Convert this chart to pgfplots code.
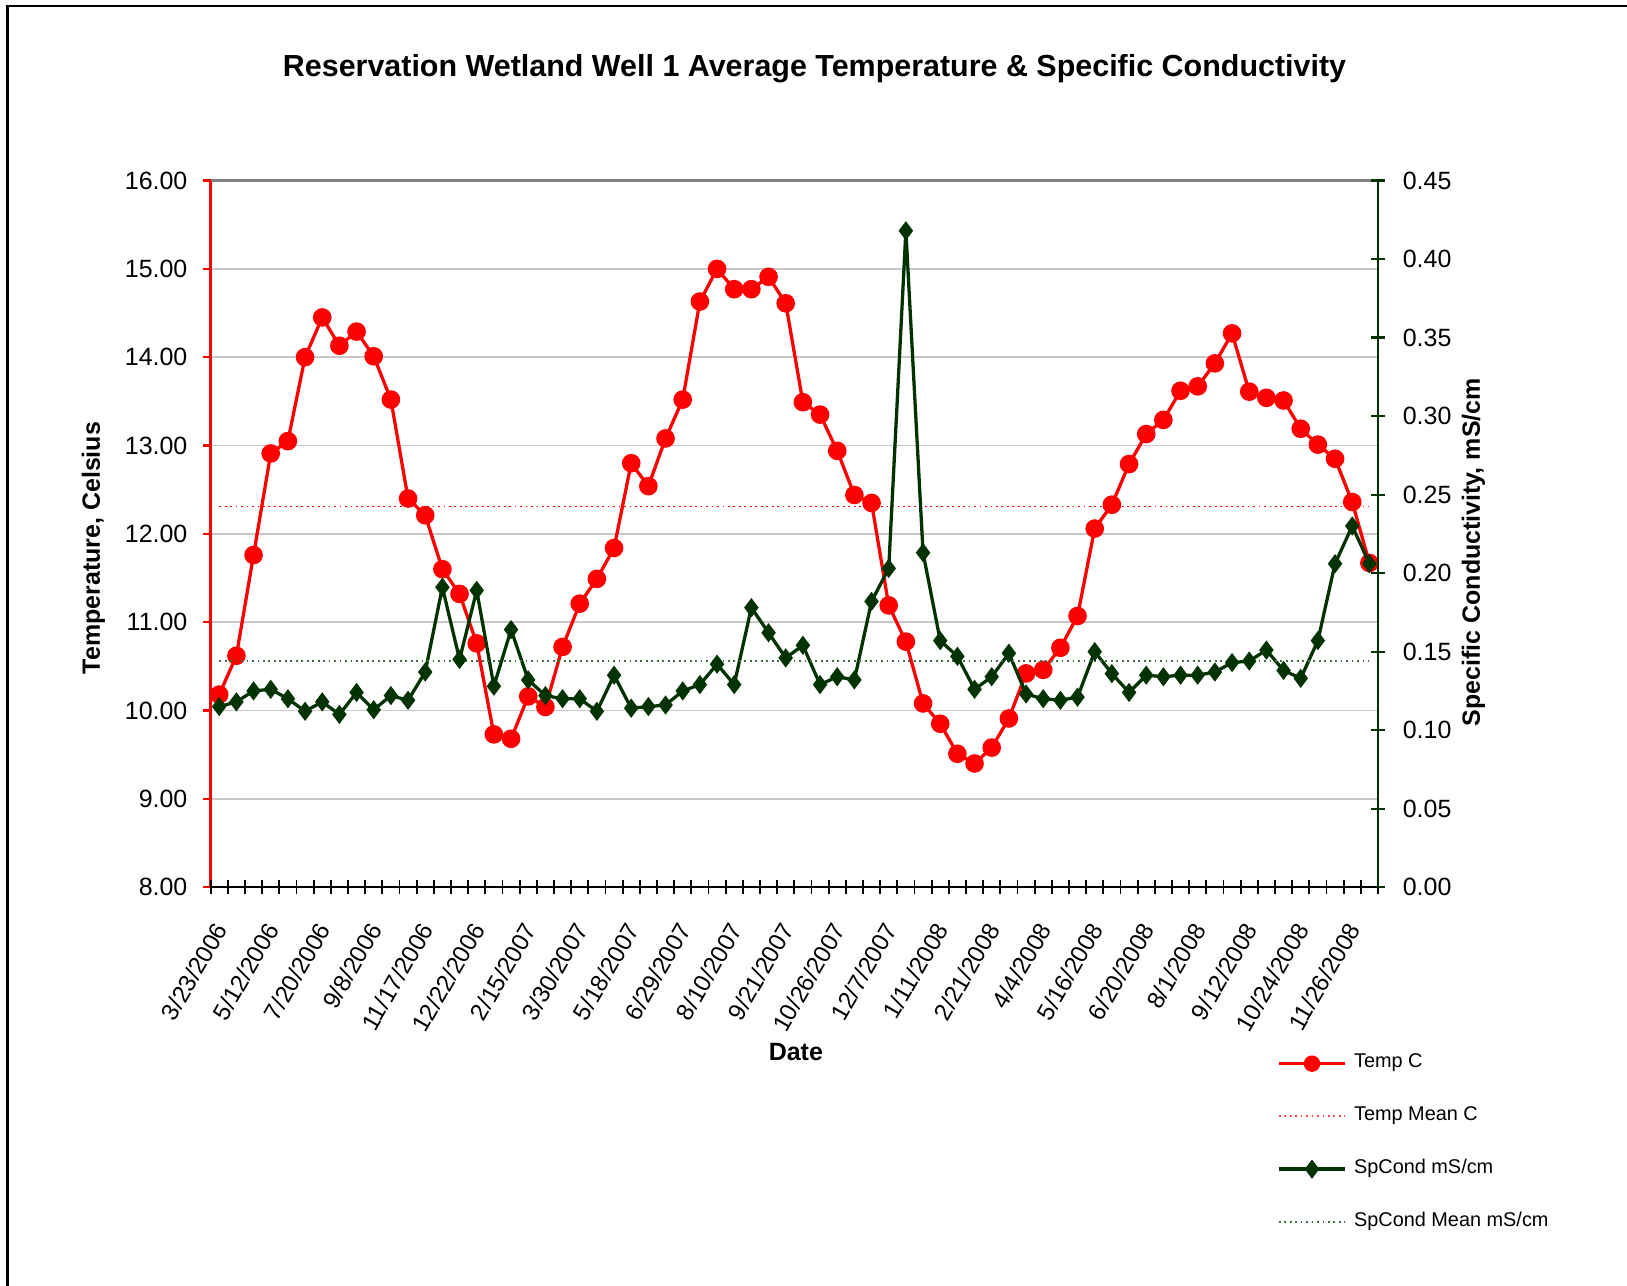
\documentclass[border=0pt]{standalone}
\usepackage{fontspec}
\setmainfont{Liberation Sans}
\usepackage{pgfplots}
\usepackage{pgfplotstable}
\pgfplotsset{compat=1.18}
\definecolor{spgreen}{RGB}{0,51,0}
\definecolor{meangreen}{RGB}{60,110,60}
\definecolor{gridgray}{RGB}{200,200,200}

\pgfplotstableread{
idx temp sp
0 10.18 0.115
1 10.62 0.118
2 11.76 0.125
3 12.91 0.126
4 13.05 0.120
5 14.00 0.112
6 14.45 0.118
7 14.13 0.110
8 14.29 0.124
9 14.01 0.113
10 13.52 0.122
11 12.40 0.119
12 12.21 0.137
13 11.60 0.191
14 11.32 0.145
15 10.76 0.189
16 9.73 0.128
17 9.68 0.164
18 10.16 0.132
19 10.04 0.122
20 10.72 0.120
21 11.21 0.120
22 11.49 0.112
23 11.84 0.135
24 12.80 0.114
25 12.54 0.115
26 13.08 0.116
27 13.52 0.125
28 14.63 0.129
29 15.00 0.142
30 14.77 0.129
31 14.77 0.178
32 14.91 0.162
33 14.61 0.146
34 13.49 0.154
35 13.35 0.129
36 12.94 0.134
37 12.44 0.132
38 12.35 0.182
39 11.19 0.203
40 10.78 0.418
41 10.08 0.213
42 9.85 0.157
43 9.51 0.147
44 9.40 0.126
45 9.58 0.134
46 9.91 0.149
47 10.42 0.123
48 10.46 0.120
49 10.71 0.119
50 11.07 0.121
51 12.06 0.150
52 12.33 0.136
53 12.79 0.124
54 13.13 0.135
55 13.29 0.134
56 13.62 0.135
57 13.67 0.135
58 13.93 0.137
59 14.27 0.143
60 13.61 0.144
61 13.54 0.151
62 13.51 0.138
63 13.19 0.133
64 13.01 0.157
65 12.85 0.206
66 12.36 0.230
67 11.67 0.206
}\datatable

\begin{document}
\begin{tikzpicture}[x=1cm,y=1cm]
\useasboundingbox (0,0) rectangle (15.68,12.39);
\draw[line width=0.7pt, black] (0.07,0) -- (0.07,12.33) -- (15.68,12.33);
\node[font=\bfseries\fontsize{8.35}{10}\selectfont] at (7.85,11.73) {Reservation Wetland Well 1 Average Temperature \& Specific Conductivity};
\node[font=\bfseries\fontsize{6.85}{8}\selectfont] at (7.67,2.25) {Date};

\begin{axis}[
  at={(2.03cm,3.84cm)}, anchor=south west,
  scale only axis, width=11.25cm, height=6.81cm,
  xmin=-0.5, xmax=67.5, ymin=8, ymax=16,
  axis x line*=top, axis y line*=left,
  x axis line style={draw=gray, line width=0.7pt, -},
  y axis line style={draw=red, line width=0.8pt, -},
  xtick=\empty,
  ytick={8,9,...,16},
  tick align=outside, major tick length=0.07cm,
  ytick style={red, line width=0.6pt},
  ymajorgrids, grid style={gridgray, line width=0.5pt},
  yticklabel style={font=\fontsize{6.85}{8}\selectfont, xshift=-0.03cm,
    /pgf/number format/fixed, /pgf/number format/fixed zerofill,
    /pgf/number format/precision=2, /pgf/number format/assume math mode=true},
  ylabel={Temperature, Celsius},
  every axis y label/.style={at={(axis description cs:-0.1004,0.48)}, rotate=90, anchor=center, font=\bfseries\fontsize{6.85}{8}\selectfont},
]
\addplot[red, line width=0.9pt, mark=*, mark size=2.1pt, mark options={solid, fill=red, draw=red}] table[x=idx,y=temp]{\datatable};
\addplot[red, densely dotted, line width=0.5pt] coordinates {(0,12.31) (67,12.31)};
\end{axis}

\begin{axis}[
  at={(2.03cm,3.84cm)}, anchor=south west,
  scale only axis, width=11.25cm, height=6.81cm,
  xmin=-0.5, xmax=67.5, ymin=0, ymax=0.45,
  axis x line*=bottom, axis y line*=right,
  x axis line style={draw=black, line width=0.7pt, -},
  y axis line style={draw=spgreen, line width=0.8pt, -},
  xtick={-0.5,0.5,...,67.5}, xticklabels={},
  extra x ticks={0,3,...,66},
  extra x tick labels={3/23/2006,5/12/2006,7/20/2006,9/8/2006,11/17/2006,12/22/2006,2/15/2007,3/30/2007,5/18/2007,6/29/2007,8/10/2007,9/21/2007,10/26/2007,12/7/2007,1/11/2008,2/21/2008,4/4/2008,5/16/2008,6/20/2008,8/1/2008,9/12/2008,10/24/2008,11/26/2008},
  extra x tick style={major tick length=0pt},
  xticklabel style={xshift=0.08cm, yshift=-0.26cm, rotate=60, anchor=east, font=\fontsize{6.6}{8}\selectfont},
  xtick style={black, line width=0.5pt},
  ytick={0,0.05,0.1,0.15,0.2,0.25,0.3,0.35,0.4,0.45},
  ytick style={spgreen, line width=0.6pt},
  tick align=center, major tick length=0.13cm,
  yticklabel style={font=\fontsize{6.85}{8}\selectfont, xshift=0.05cm,
    /pgf/number format/fixed, /pgf/number format/fixed zerofill,
    /pgf/number format/precision=2, /pgf/number format/assume math mode=true},
  ylabel={Specific Conductivity, mS/cm},
  every axis y label/.style={at={(axis description cs:1.0818,0.474)}, rotate=90, anchor=center, font=\bfseries\fontsize{6.85}{8}\selectfont},
  legend style={at={(axis description cs:0.913,-0.2247)}, anchor=north west, draw=none, fill=none,
    font=\fontsize{5.45}{6.5}\selectfont, row sep=0.18cm, inner sep=0pt},
  legend cell align=left,
  legend image code/.code={\draw[mark repeat=2,mark phase=2,#1] plot coordinates {(0cm,0cm) (0.32cm,0cm) (0.64cm,0cm)};},
]
\addlegendimage{red, line width=0.9pt, mark=*, mark size=1.8pt, mark options={solid, fill=red, draw=red}}
\addlegendentry{Temp C}
\addlegendimage{red!70, densely dotted, line width=0.5pt}
\addlegendentry{Temp Mean C}
\addplot[spgreen, line width=0.9pt, mark=diamond*, mark size=1.9pt, mark options={solid, fill=spgreen, draw=spgreen}] table[x=idx,y=sp]{\datatable};
\addlegendentry{SpCond mS/cm}
\addplot[meangreen, densely dotted, line width=0.5pt] coordinates {(0,0.144) (67,0.144)};
\addlegendentry{SpCond Mean mS/cm}
\end{axis}
\end{tikzpicture}
\end{document}
